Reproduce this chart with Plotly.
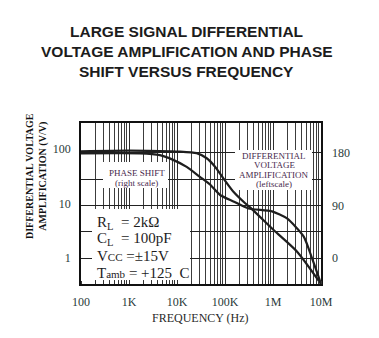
import plotly.graph_objects as go

# ---------------- data ----------------
freq_gain = [100, 1e3, 7.1e3, 11.5e3, 25.7e3, 41.6e3, 62e3, 92.6e3, 150e3, 263e3, 364e3, 1.03e6, 3.18e6, 1e7]
gain = [90, 92, 90, 89, 83, 67, 47, 28.8, 16.4, 10.1, 7.9, 3.28, 1.32, 0.34]

freq_phase = [100, 1.67e3, 4.4e3, 8.3e3, 15.9e3, 30e3, 48.7e3, 79e3, 150e3, 309e3, 953e3, 1.96e6, 4.37e6, 6.5e6, 1e7]
phase = [179, 179, 176, 168, 156, 139, 126, 108, 97, 85, 80, 68, 37, 0, -44]

x_tickvals = [1e2, 1e3, 1e4, 1e5, 1e6, 1e7]
x_ticktext = ["100", "1K", "10K", "100K", "1M", "10M"]
yl_tickvals = [1, 10, 100]
yl_ticktext = ["1", "10", "100"]
yr_tickvals = [0, 90, 180]
yr_ticktext = ["0", "90", "180"]

title_lines = ["LARGE SIGNAL DIFFERENTIAL", "VOLTAGE AMPLIFICATION AND PHASE", "SHIFT VERSUS FREQUENCY"]
amp_label_lines = ["DIFFERENTIAL", "VOLTAGE", "AMPLIFICATION", "(leftscale)"]
phase_label_lines = ["PHASE SHIFT", "(right scale)"]
param_lines = [
    "R<sub>L</sub>\u00a0\u00a0= 2k\u03a9",
    "C<sub>L</sub>\u00a0\u00a0= 100pF",
    "V<span style='font-size:11px'>CC</span> =\u00b115V",
    "T<span style='font-size:11px'>amb</span> = +125\u00a0 C",
]

# ---------------- layout geometry ----------------
W, H = 379, 338
L, R, T, B = 81, 58, 123, 54
PW, PH = W - L - R, H - T - B


def px(x):
    return (x - L) / PW


def py(y):
    return (H - B - y) / PH


SERIF = "Liberation Serif, Times New Roman, serif"
SANS = "Liberation Sans, Arial, sans-serif"
INK = "#1c1c1c"
LABEL_INK = "#47294d"
GRID = "#2e2e2e"

fig = go.Figure()
fig.add_trace(go.Scatter(x=freq_gain, y=gain, mode="lines", yaxis="y",
                         line=dict(color="#1e1e1e", width=2.2, shape="spline", smoothing=0.6),
                         showlegend=False, hoverinfo="skip"))
fig.add_trace(go.Scatter(x=freq_phase, y=phase, mode="lines", yaxis="y2",
                         line=dict(color="#1e1e1e", width=2.2, shape="spline", smoothing=0.6),
                         showlegend=False, hoverinfo="skip"))

annotations = []
# title
for i, line in enumerate(title_lines):
    annotations.append(dict(text=f"<b>{line}</b>", xref="paper", yref="paper",
                            x=px(186.5), y=py([32, 52, 71.5][i]), xanchor="center", yanchor="middle",
                            showarrow=False, font=dict(family=SANS, size=15.5, color=INK)))
# axis titles
annotations.append(dict(text="FREQUENCY (Hz)", xref="paper", yref="paper", x=px(200), y=py(318),
                        xanchor="center", yanchor="middle", showarrow=False,
                        font=dict(family=SERIF, size=12, color="#2a2a2a")))
annotations.append(dict(text="<b>DIFFERENTIAL VOLTAGE<br>AMPLIFICATION (V/V)</b>", xref="paper", yref="paper",
                        x=px(36), y=py(176), xanchor="center", yanchor="middle", textangle=-90,
                        showarrow=False, font=dict(family=SERIF, size=10, color="#111111")))

# white boxes behind the labels (cover the grid)
shapes = []
for cx, cy, w, h in [(135.5, 175, 65, 26), (273.5, 170, 77, 40), (141, 244.5, 98, 71)]:
    shapes.append(dict(type="rect", xref="paper", yref="paper",
                       x0=px(cx - w / 2), x1=px(cx + w / 2), y0=py(cy + h / 2), y1=py(cy - h / 2),
                       fillcolor="white", line=dict(width=0), layer="above"))

for i, line in enumerate(phase_label_lines):
    annotations.append(dict(text=line, xref="paper", yref="paper", x=px(136.5), y=py([172.7, 182.7][i]),
                            xanchor="center", yanchor="middle", showarrow=False,
                            font=dict(family=SERIF, size=9, color=LABEL_INK)))
for i, line in enumerate(amp_label_lines):
    annotations.append(dict(text=line, xref="paper", yref="paper", x=px(274), y=py([156, 165, 175, 184.3][i]),
                            xanchor="center", yanchor="middle", showarrow=False,
                            font=dict(family=SERIF, size=9, color=LABEL_INK)))
for i, line in enumerate(param_lines):
    annotations.append(dict(text=line, xref="paper", yref="paper", x=px(95), y=py([223, 239, 256, 272.5][i]),
                            xanchor="left", yanchor="middle", showarrow=False,
                            font=dict(family=SERIF, size=15, color=INK)))

fig.update_layout(
    width=W, height=H,
    margin=dict(l=L, r=R, t=T, b=B),
    paper_bgcolor="white", plot_bgcolor="white",
    showlegend=False,
    xaxis=dict(type="log", range=[2, 7], tickvals=x_tickvals, ticktext=x_ticktext,
               showgrid=True, gridcolor=GRID, gridwidth=1.2,
               minor=dict(dtick="D1", showgrid=True, gridcolor="#3c3c3c", gridwidth=1,
                          ticks="inside", ticklen=3, tickcolor="#333"),
               ticks="", showline=True, linecolor="#111", linewidth=1.5, mirror=True,
               tickfont=dict(family=SERIF, size=12, color="#2a3a3a"), ticklabelstandoff=6,
               zeroline=False),
    yaxis=dict(type="log", range=[-0.47, 2.47], tickvals=yl_tickvals, ticktext=yl_ticktext,
               showgrid=False, ticks="", showline=True, linecolor="#111", linewidth=1.5, mirror=True,
               tickfont=dict(family=SERIF, size=12, color="#2a3a3a"), ticklabelstandoff=6,
               zeroline=False),
    yaxis2=dict(overlaying="y", side="right", range=[-44, 231], tickvals=yr_tickvals, ticktext=yr_ticktext,
                showgrid=True, gridcolor="#222", gridwidth=1,
                minor=dict(tickvals=[45, 135], showgrid=True, gridcolor="#222", gridwidth=1),
                ticks="", showline=False, zeroline=False,
                tickfont=dict(family=SERIF, size=12, color="#2a3a3a"), ticklabelstandoff=10),
    shapes=shapes,
    annotations=annotations,
)

fig.write_html("out.html")
